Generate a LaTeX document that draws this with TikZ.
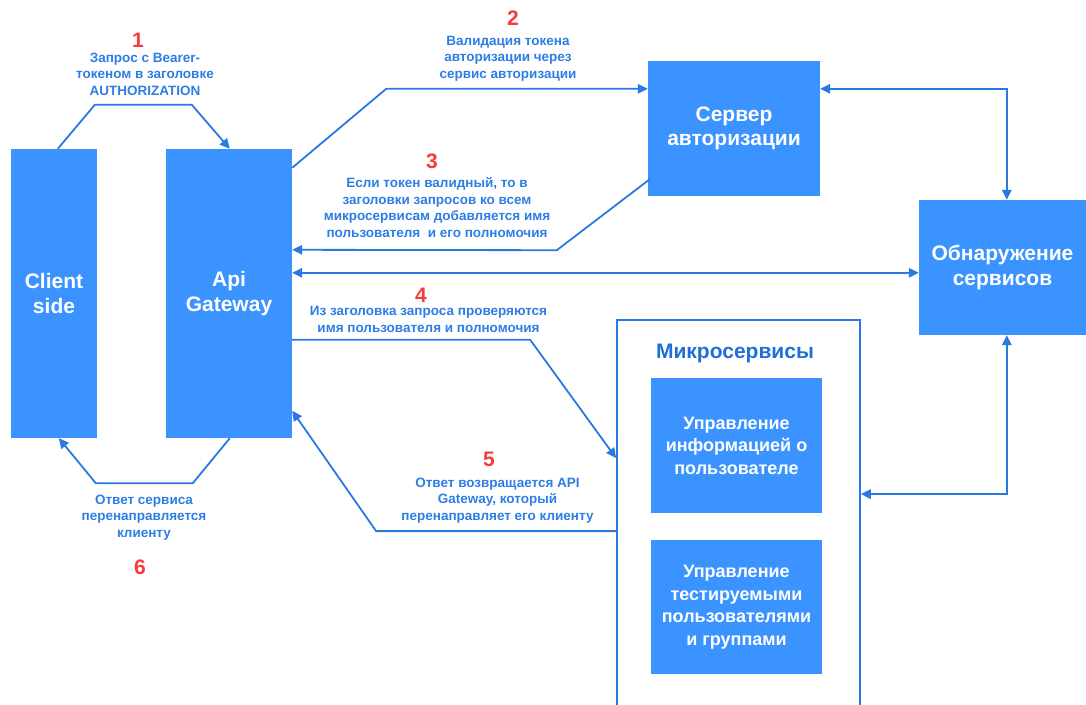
\documentclass[tikz,border=0pt]{standalone}
\usepackage{fontspec}
\setmainfont{Liberation Sans}
\usetikzlibrary{arrows.meta,calc}
\definecolor{boxblue}{HTML}{3A93FF}
\definecolor{lineblue}{HTML}{2A78E2}
\definecolor{txtblue}{HTML}{2D7DE5}
\definecolor{numred}{HTML}{F53B3B}
\definecolor{titleblue}{HTML}{1F6FD8}
\begin{document}
\begin{tikzpicture}[x=1pt,y=-1pt,
  box/.style={fill=boxblue, inner sep=0pt, text=white, font=\bfseries\fontsize{21}{24.5}\selectfont, align=center},
  msbox/.style={box, font=\bfseries\fontsize{18}{22.5}\selectfont},
  lbl/.style={text=txtblue, font=\bfseries\fontsize{13.5}{16.5}\selectfont, align=center, inner sep=0pt},
  num/.style={text=numred, font=\bfseries\fontsize{21}{21}\selectfont, inner sep=0pt},
  conn/.style={draw=lineblue, line width=1.8pt, line join=miter},
  arr/.style={conn, -{Triangle[length=10pt,width=9.5pt]}},
  barr/.style={conn, {Triangle[length=10pt,width=9.5pt]}-{Triangle[length=10pt,width=9.5pt]}},
]
\useasboundingbox (0,0) rectangle (1086,704);

% main boxes
\node[box, minimum width=86pt, minimum height=289pt] (client) at (54,293.5) {Client\\side};
\node[box, minimum width=126pt, minimum height=289pt] (api) at (229,293.5) {Api\\Gateway};
\node[box, minimum width=172pt, minimum height=135pt] (auth) at (734,128.5) {Сервер\\авторизации};
\node[box, minimum width=167pt, minimum height=135pt] (disc) at (1002.5,267.5) {Обнаружение\\сервисов};

% microservices container
\node[draw=lineblue, line width=1.8pt, inner sep=0pt, minimum width=243pt, minimum height=388pt] (micro) at (738.5,514) {};
\node[text=titleblue, font=\bfseries\fontsize{21}{24}\selectfont, inner sep=0pt] (mtitle) at (735,353) {Микросервисы};
\node[msbox, minimum width=171pt, minimum height=135pt] (ms1) at (736.5,445.5) {Управление\\информацией о\\пользователе};
\node[msbox, minimum width=171pt, minimum height=134pt] (ms2) at (736.5,607) {Управление\\тестируемыми\\пользователями\\и группами};

% connectors
% 1
\draw[arr] ($(client.north west)+(47,0)$) -- ++(37,-44) -- ++(97,0) -- ($(api.north west)+(64,0)$);
% 6
\draw[arr] ($(api.south west)+(64,0)$) -- ++(-37,45) -- ++(-97,0) -- ($(client.south west)+(48,0)$);
% 2
\draw[arr] ($(api.north east)+(0,19)$) -- ++(94,-79) -- ($(auth.north west)+(0,28)$);
% 3
\draw[arr] ($(auth.south west)+(2,-17)$) -- ++(-93,71) -- ($(api.north east)+(0,101)$);
% api <-> discovery
\draw[barr] ($(api.north east)+(0,124)$) -- ($(disc.north west)+(0,73)$);
% auth <-> discovery
\draw[barr] ($(auth.north east)+(0,28)$) -| ($(disc.north west)+(88,0)$);
% discovery <-> micro
\draw[barr] ($(disc.south west)+(88,0)$) |- ($(micro.north east)+(0,175)$);
% 4
\draw[arr] ($(api.north east)+(0,191)$) -- ++(238,0) -- ($(micro.north west)+(0,139)$);
% 5
\draw[arr] ($(micro.north west)+(0,212)$) -- ++(-240,0) -- ($(api.north east)+(0,262)$);

% labels
\node[num] (n1) at (138,40) {1};
\node[lbl] (l1) at (145,74) {Запрос с Bearer-\\токеном в заголовке\\AUTHORIZATION};
\node[num] (n2) at (513,18) {2};
\node[lbl] (l2) at (508,58.5) {Валидация токена\\авторизации через\\сервис авторизации};
\node[num] (n3) at (432,161) {3};
\node[lbl] (l3) at (437,207.5) {Если токен валидный, то в\\заголовки запросов ко всем\\микросервисам добавляется имя\\пользователя~ и его полномочия};
\node[num] (n4) at (421,295) {4};
\node[lbl] (l4) at (428.5,319.5) {Из заголовка запроса проверяются\\имя пользователя и полномочия};
\node[num] (n5) at (489,459) {5};
\node[lbl] (l5) at (497.5,500.5) {Ответ возвращается API\\Gateway, который\\перенаправляет его клиенту};
\node[lbl] (l6) at (144,517.5) {Ответ сервиса\\перенаправляется\\клиенту};
\node[num] (n6) at (140,567) {6};
\end{tikzpicture}
\end{document}
